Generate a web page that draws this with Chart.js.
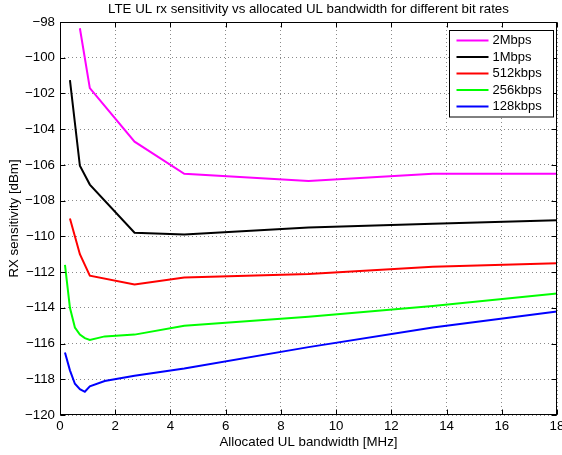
<!DOCTYPE html>
<html lang="en">
  <head>
    <meta charset="utf-8">
    <script src="https://cdn.jsdelivr.net/npm/chart.js@4.4.0/dist/chart.umd.min.js"></script>
    <style>
      html, body { margin: 0; padding: 0; background: #fff; }
      #chart-sens { display: block; }
    </style>
  </head>
  <body>
    <canvas id="chart-sens" width="562" height="455"></canvas>

    <script type="text/javascript">
      // allocated bandwidth in MHz (RB count * 0.18)
      var bw2M = [0.72, 1.08, 2.7, 4.5, 9, 13.5, 18];
      var bw1M = [0.36, 0.72, 1.08, 2.7, 4.5, 9, 13.5, 18];
      var bw512k = [0.36, 0.72, 1.08, 2.7, 4.5, 9, 13.5, 18];
      var bw256k = [0.18, 0.36, 0.54, 0.72, 0.9, 1.08, 1.62, 2.7, 4.5, 9, 13.5, 18];
      var bw128k = [0.18, 0.36, 0.54, 0.72, 0.9, 1.08, 1.62, 2.7, 4.5, 9, 13.5, 18];

      // rx sensitivity in dBm
      var sens2M = [-98.35, -101.7, -104.7, -106.5, -106.9, -106.5, -106.5];
      var sens1M = [-101.25, -106.05, -107.1, -109.8, -109.9, -109.5, -109.3, -109.1];
      var sens512k = [-109.0, -111.0, -112.2, -112.7, -112.3, -112.1, -111.7, -111.5];
      var sens256k = [-111.6, -114.0, -115.1, -115.5, -115.7, -115.8, -115.6, -115.5, -115.0, -114.5, -113.9, -113.2];
      var sens128k = [-116.5, -117.5, -118.25, -118.55, -118.7, -118.4, -118.1, -117.8, -117.4, -116.2, -115.1, -114.2];

      var rateLabels = ['2Mbps', '1Mbps', '512kbps', '256kbps', '128kbps'];
      var rateColors = ['#ff00ff', '#000000', '#ff0000', '#00ff00', '#0000ff'];

      var xTicks = [0, 2, 4, 6, 8, 10, 12, 14, 16, 18];
      var yTicks = [-120, -118, -116, -114, -112, -110, -108, -106, -104, -102, -100, -98];

      var titleText = 'LTE UL rx sensitivity vs allocated UL bandwidth for different bit rates';
      var xLabel = 'Allocated UL bandwidth [MHz]';
      var yLabel = 'RX sensitivity [dBm]';

      var FONT = 'Arial, "Liberation Sans", Helvetica, sans-serif';
      Chart.defaults.font.family = FONT;
      Chart.defaults.color = '#000';

      function toPoints(xs, ys) {
        var pts = [];
        for (var i = 0; i < xs.length; i++) {
          pts.push({ x: xs[i], y: ys[i] });
        }
        return pts;
      }

      function minus(v) {
        return String(v).replace('-', '\u2212');
      }

      var allX = [bw2M, bw1M, bw512k, bw256k, bw128k];
      var allY = [sens2M, sens1M, sens512k, sens256k, sens128k];
      var datasets = [];
      for (var i = 0; i < rateLabels.length; i++) {
        datasets.push({
          label: rateLabels[i],
          data: toPoints(allX[i], allY[i]),
          borderColor: rateColors[i],
          backgroundColor: rateColors[i],
          showLine: true,
          borderWidth: 2,
          pointRadius: 0,
          tension: 0
        });
      }

      // matlab look: box, inward ticks, boxed legend, texts
      var matlabFrame = {
        id: 'matlabFrame',
        afterDraw: function (chart) {
          var c = chart.ctx;
          var a = chart.chartArea;
          var L = Math.round(a.left) + 0.5, R = Math.round(a.right) - 0.5;
          var T = Math.round(a.top) + 0.5, B = Math.round(a.bottom) - 0.5;
          c.save();
          c.strokeStyle = '#000';
          c.lineWidth = 1;
          c.strokeRect(L, T, R - L, B - T);

          // inward tick marks
          var tl = 5;
          c.beginPath();
          xTicks.forEach(function (t) {
            var px = Math.round(chart.scales.x.getPixelForValue(t)) + 0.5;
            c.moveTo(px, B); c.lineTo(px, B - tl);
            c.moveTo(px, T); c.lineTo(px, T + tl);
          });
          yTicks.forEach(function (t) {
            var py = Math.round(chart.scales.y.getPixelForValue(t)) + 0.5;
            c.moveTo(L, py); c.lineTo(L + tl, py);
            c.moveTo(R, py); c.lineTo(R - tl, py);
          });
          c.stroke();

          // legend
          var lw = 104, rowH = 16.5;
          var lx = Math.round(a.right) - 108 + 0.5;
          var ly = Math.round(a.top) + 8 + 0.5;
          var lh = rowH * rateLabels.length + 4;
          c.fillStyle = '#fff';
          c.fillRect(lx, ly, lw, lh);
          c.strokeRect(lx, ly, lw, lh);
          c.font = '13px ' + FONT;
          c.textBaseline = 'middle';
          c.textAlign = 'left';
          chart.data.datasets.forEach(function (ds, k) {
            var cy = ly + 10 + k * rowH;
            c.strokeStyle = ds.borderColor;
            c.lineWidth = 2;
            c.beginPath();
            c.moveTo(lx + 7, cy); c.lineTo(lx + 39, cy);
            c.stroke();
            c.fillStyle = '#000';
            c.fillText(ds.label, lx + 43, cy);
          });

          // title and axis labels
          var mid = (a.left + a.right) / 2;
          c.fillStyle = '#000';
          c.textAlign = 'center';
          c.font = '13.3px ' + FONT;
          c.fillText(titleText, mid, 9);
          c.fillText(xLabel, mid, 442);
          c.translate(14, (a.top + a.bottom) / 2);
          c.rotate(-Math.PI / 2);
          c.fillText(yLabel, 0, 0);
          c.restore();
        }
      };

      var context = document.getElementById('chart-sens').getContext('2d');
      var chart = new Chart(context, {
        type: 'scatter',
        data: { datasets: datasets },
        options: {
          responsive: false,
          animation: false,
          layout: { padding: { top: 22, right: 5, left: 0, bottom: 0 } },
          plugins: {
            legend: { display: false },
            tooltip: { enabled: false }
          },
          scales: {
            x: {
              type: 'linear',
              min: 0,
              max: 18,
              afterBuildTicks: function (s) {
                s.ticks = xTicks.map(function (v) { return { value: v }; });
              },
              ticks: {
                padding: 3,
                maxRotation: 0,
                font: { size: 13.3 },
                color: '#000',
                callback: function (v) { return minus(v); }
              },
              grid: { color: '#8a8a8a', drawTicks: false, lineWidth: 1 },
              border: { display: false, dash: [1, 3] },
              afterFit: function (s) {
                s.height = 40;
                s.paddingLeft = 0;
                s.paddingRight = 0;
              }
            },
            y: {
              type: 'linear',
              min: -120,
              max: -98,
              afterBuildTicks: function (s) {
                s.ticks = yTicks.map(function (v) { return { value: v }; });
              },
              ticks: {
                padding: 5,
                font: { size: 13.3 },
                color: '#000',
                callback: function (v) { return minus(v); }
              },
              grid: { color: '#8a8a8a', drawTicks: false, lineWidth: 1 },
              border: { display: false, dash: [1, 3] },
              afterFit: function (s) {
                s.width = 60;
                s.paddingTop = 0;
                s.paddingBottom = 0;
              }
            }
          }
        },
        plugins: [matlabFrame]
      });
    </script>
  </body>
</html>
